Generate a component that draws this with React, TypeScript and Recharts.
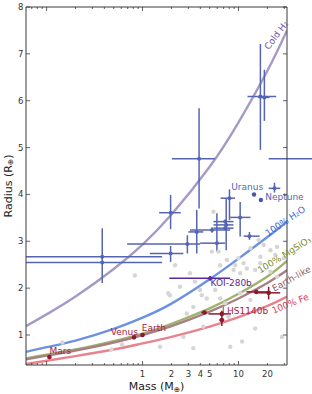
import React from "react"
import { ComposedChart, XAxis, YAxis, Line, Scatter, ErrorBar, ReferenceDot } from "recharts"

// composition curves, sampled at the same masses
const curveMass = [0.061, 0.1, 0.2, 0.5, 1, 2, 5, 10, 20, 32]
const coldH2Radius = [1.19, 1.44, 1.82, 2.41, 2.93, 3.57, 4.59, 5.54, 6.64, 7.5]
const waterRadius = [0.64, 0.74, 0.88, 1.13, 1.37, 1.67, 2.19, 2.63, 3.09, 3.42]
const rockRadius = [0.5, 0.58, 0.69, 0.87, 1.03, 1.24, 1.57, 1.88, 2.25, 2.58]
const earthLikeRadius = [0.48, 0.56, 0.67, 0.84, 1.0, 1.19, 1.5, 1.78, 2.11, 2.38]
const ironRadius = [0.38, 0.45, 0.55, 0.69, 0.82, 0.96, 1.18, 1.38, 1.62, 1.82]

// [mass, radius, massLow, massHigh, radiusLow, radiusHigh]
const blueExoplanets = [
  [0.38, 2.67, 0.061, 1.6, 2.11, 3.28],
  [0.38, 2.55, 0.061, 1.6, 2.55, 2.55],
  [1.96, 3.61, 1.49, 2.5, 3.26, 3.99],
  [1.96, 2.74, 1.19, 2.66, 2.56, 2.9],
  [2.93, 2.94, 0.69, 3.98, 2.74, 3.13],
  [3.88, 4.76, 2.02, 5.7, 3.7, 5.84],
  [3.67, 3.2, 3.0, 4.3, 2.74, 3.67],
  [8.05, 3.92, 6.5, 9.2, 3.45, 4.11],
  [7.44, 3.35, 5.48, 8.87, 2.81, 3.92],
  [7.26, 3.42, 5.48, 8.87, 3.38, 3.46],
  [7.26, 3.28, 5.48, 8.87, 3.24, 3.32],
  [5.95, 2.96, 3.98, 7.26, 2.78, 3.6],
  [5.3, 3.24, 3.12, 8.19, 3.18, 3.3],
  [10.4, 3.51, 8.19, 13.3, 3.1, 3.84],
  [13.0, 3.11, 11.3, 16.6, 3.03, 3.2],
  [16.9, 6.09, 12.4, 24.7, 4.95, 7.21],
  [18.6, 6.07, 16.0, 21.0, 5.57, 6.66],
  [40, 4.76, 20.6, 60, 4.76, 4.76],
  [23.7, 4.13, 20.6, 27.2, 4.04, 4.25],
]
const iceGiants = [
  [14.5, 4.0],
  [17.1, 3.88],
]
const rockyPlanets = [
  [0.107, 0.53, 0.107, 0.107, 0.53, 0.53],
  [0.815, 0.95, 0.815, 0.815, 0.95, 0.95],
  [1, 1, 1, 1, 1, 1],
  [4.41, 1.48, 4.1, 4.7, 1.48, 1.48],
  [6.7, 1.45, 4.86, 8.33, 1.4, 1.52],
  [6.7, 1.32, 6.3, 7.1, 1.19, 1.43],
  [15.3, 1.92, 12.1, 21.5, 1.88, 1.96],
  [20.6, 1.9, 15.6, 27.2, 1.76, 2.03],
]
const koi280b = [[5.06, 2.21, 1.9, 8.19, 2.16, 2.26]]

const backgroundPlanets = [
  [1.93, 1.85], [3.12, 2.32], [3.52, 2.14], [3.97, 1.96], [4.14, 1.85], [4.67, 1.78],
  [3.38, 1.6], [2.89, 1.46], [2.66, 0.96], [1.52, 0.75], [3.38, 0.72], [8.19, 0.75],
  [14.9, 1.14], [10.4, 1.89], [13.3, 1.75], [7.86, 1.39], [7.26, 1.68], [6.44, 1.78],
  [10.4, 2.32], [12.2, 2.42], [16.9, 2.53], [21.5, 2.35], [25.2, 2.24], [29.6, 2.64],
  [5.71, 1.96], [2.46, 2.03], [5.27, 2.78], [7.56, 2.6], [6.44, 2.49], [9.23, 2.49],
  [5.48, 3.63], [6.18, 2.78], [10.0, 2.64], [11.3, 2.53], [16.2, 3.03], [18.3, 2.92],
  [21.5, 2.81], [25.2, 2.88], [13.3, 2.85], [16.9, 2.67], [24.2, 2.71], [8.87, 2.39],
  [14.9, 2.39], [4.3, 1.18], [10.9, 0.86], [28.4, 0.96], [0.146, 0.84], [0.474, 0.69],
  [0.612, 0.8], [0.831, 2.27], [2.18, 2.49], [1.85, 1.89],
]

const massTicks = [
  0.07, 0.08, 0.09, 0.1, 0.2, 0.3, 0.4, 0.5, 0.6, 0.7, 0.8, 0.9,
  1, 2, 3, 4, 5, 6, 7, 8, 9, 10, 20, 30,
]
const majorMassTicks = [0.1, 1, 10]
const massLabels = [1, 2, 3, 4, 5, 10, 20]
const radiusTicks = [1, 2, 3, 4, 5, 6, 7, 8]

// text notes: [text, mass, radius, colour, tilt]
const curveNotes = [
  ["Cold H₂", 24.8, 7.4, "#6e57a3", -53],
  ["100% H₂O", 30.8, 3.43, "#3e62d6", -34],
  ["100% MgSiO₃", 30.1, 2.71, "#7a8e33", -32],
  ["Earth-like", 35.6, 2.2, "#8a5b5d", -29],
  ["100% Fe", 34.7, 1.67, "#d7404f", -22],
]
const planetNotes = [
  ["Mars", 0.139, 0.65, "#a8213b"],
  ["Venus", 0.645, 1.06, "#a8213b"],
  ["Earth", 1.31, 1.15, "#a8213b"],
  ["LHS1140b", 11.7, 1.51, "#a8213b"],
  ["KOI-280b", 8.39, 2.1, "#5a2a98"],
  ["Uranus", 12.3, 4.15, "#5565b2"],
  ["Neptune", 30.1, 3.95, "#5565b2"],
]

const AXIS = "#3a3a3a"
const FONT = "DejaVu Sans, sans-serif"

const curve = (radius: number[]) => curveMass.map((m, i) => ({ m, r: radius[i] }))
const withErrors = (rows: number[][]) =>
  rows.map(([m, r, mLo, mHi, rLo, rHi]) => ({ m, r, ex: [m - mLo, mHi - m], ey: [r - rLo, rHi - r] }))
const points = (rows: number[][]) => rows.map(([m, r]) => ({ m, r }))

const dot = (r: number, fill: string) => (p: any) => <circle cx={p.cx} cy={p.cy} r={r} fill={fill} />

function BottomTick({ x, y, payload }: any) {
  const v = payload.value
  const len = majorMassTicks.includes(v) ? 4 : 2
  return (
    <g>
      <line x1={x} x2={x} y1={y} y2={y - len} stroke={AXIS} strokeWidth={0.8} />
      {massLabels.includes(v) && (
        <text x={x} y={y + 11.5} textAnchor="middle" fontSize={8.5} fill="#333" fontFamily={FONT}>
          {v}
        </text>
      )}
    </g>
  )
}

function TopTick({ x, y, payload }: any) {
  const len = majorMassTicks.includes(payload.value) ? 4 : 2
  return <line x1={x} x2={x} y1={y} y2={y + len} stroke={AXIS} strokeWidth={0.8} />
}

function LeftTick({ x, y, payload }: any) {
  return (
    <g>
      <line x1={x} x2={x + 4} y1={y} y2={y} stroke={AXIS} strokeWidth={0.8} />
      <text x={x - 2.5} y={y + 3} textAnchor="end" fontSize={8.5} fill="#333" fontFamily={FONT}>
        {payload.value}
      </text>
    </g>
  )
}

function RightTick({ x, y }: any) {
  return <line x1={x} x2={x - 4} y1={y} y2={y} stroke={AXIS} strokeWidth={0.8} />
}

function MassTitle({ viewBox }: any) {
  return (
    <text x={viewBox.x + viewBox.width / 2} y={viewBox.y + 25} textAnchor="middle" fontSize={11} fill="#222" fontFamily={FONT}>
      Mass (M<tspan fontSize={7.5} dy={2}>⊕</tspan><tspan dy={-2}>)</tspan>
    </text>
  )
}

function RadiusTitle({ viewBox }: any) {
  const cx = 8
  const cy = viewBox.y + viewBox.height / 2
  return (
    <text x={cx} y={cy} transform={`rotate(-90 ${cx} ${cy})`} textAnchor="middle" dominantBaseline="central" fontSize={11} fill="#222" fontFamily={FONT}>
      Radius (R<tspan fontSize={7.5} dy={2}>⊕</tspan><tspan dy={-2}>)</tspan>
    </text>
  )
}

function Note({ viewBox, text, color, tilt = 0 }: any) {
  const cx = viewBox.x + viewBox.width / 2
  const cy = viewBox.y + viewBox.height / 2
  return (
    <text x={cx} y={cy} transform={`rotate(${tilt} ${cx} ${cy})`} textAnchor="middle" dominantBaseline="central" fontSize={9} fill={color} fontFamily={FONT}>
      {text}
    </text>
  )
}

export default function App() {
  const crossStyle = { width: 0, strokeWidth: 1.5 }
  return (
    <div style={{ position: "absolute", left: 0, top: 0, background: "#fff" }}>
      <ComposedChart width={312} height={394} margin={{ top: 6, right: 24, bottom: 0, left: 0 }}>
        <XAxis
          dataKey="m"
          type="number"
          scale="log"
          domain={[0.061, 32]}
          allowDataOverflow
          ticks={massTicks}
          interval={0}
          tickSize={0}
          tickMargin={0}
          tickLine={false}
          tick={<BottomTick />}
          height={29}
          stroke={AXIS}
          label={<MassTitle />}
        />
        <XAxis
          xAxisId="top"
          orientation="top"
          dataKey="m"
          type="number"
          scale="log"
          domain={[0.061, 32]}
          allowDataOverflow
          ticks={massTicks}
          interval={0}
          tickSize={0}
          tickMargin={0}
          tickLine={false}
          tick={<TopTick />}
          height={1}
          stroke={AXIS}
        />
        <YAxis
          dataKey="r"
          type="number"
          domain={[0.36, 8]}
          allowDataOverflow
          ticks={radiusTicks}
          interval={0}
          tickSize={0}
          tickMargin={0}
          tickLine={false}
          tick={<LeftTick />}
          width={26}
          stroke={AXIS}
          label={<RadiusTitle />}
        />
        <YAxis
          yAxisId="right"
          orientation="right"
          dataKey="r"
          type="number"
          domain={[0.36, 8]}
          allowDataOverflow
          ticks={radiusTicks}
          interval={0}
          tickSize={0}
          tickMargin={0}
          tickLine={false}
          tick={<RightTick />}
          width={1}
          stroke={AXIS}
        />

        <Scatter data={points(backgroundPlanets)} shape={dot(2.2, "#d6d6d6")} isAnimationActive={false} />

        <Line data={curve(coldH2Radius)} dataKey="r" type="natural" stroke="#a699c8" strokeWidth={2.4} dot={false} isAnimationActive={false} />
        <Line data={curve(waterRadius)} dataKey="r" type="natural" stroke="#6d91e2" strokeWidth={2.4} dot={false} isAnimationActive={false} />
        <Line data={curve(rockRadius)} dataKey="r" type="natural" stroke="#a0b26c" strokeWidth={2.4} dot={false} isAnimationActive={false} />
        <Line data={curve(earthLikeRadius)} dataKey="r" type="natural" stroke="#a88084" strokeWidth={2.4} dot={false} isAnimationActive={false} />
        <Line data={curve(ironRadius)} dataKey="r" type="natural" stroke="#e8828d" strokeWidth={2.4} dot={false} isAnimationActive={false} />

        <Scatter data={withErrors(blueExoplanets)} shape={dot(2, "#5565b2")} isAnimationActive={false}>
          <ErrorBar dataKey="ex" direction="x" stroke="#5565b2" {...crossStyle} />
          <ErrorBar dataKey="ey" direction="y" stroke="#5565b2" {...crossStyle} />
        </Scatter>
        <Scatter data={points(iceGiants)} shape={dot(2.2, "#4757a8")} isAnimationActive={false} />
        <Scatter data={withErrors(koi280b)} shape={dot(2, "#5a2a98")} isAnimationActive={false}>
          <ErrorBar dataKey="ex" direction="x" stroke="#5a2a98" {...crossStyle} />
          <ErrorBar dataKey="ey" direction="y" stroke="#5a2a98" {...crossStyle} />
        </Scatter>
        <Scatter data={withErrors(rockyPlanets)} shape={dot(2.3, "#8b1a2e")} isAnimationActive={false}>
          <ErrorBar dataKey="ex" direction="x" stroke="#8b1a2e" {...crossStyle} />
          <ErrorBar dataKey="ey" direction="y" stroke="#8b1a2e" {...crossStyle} />
        </Scatter>

        {curveNotes.map(([text, m, r, color, tilt]) => (
          <ReferenceDot key={text as string} x={m} y={r} r={0} fill="none" stroke="none" ifOverflow="visible"
            label={<Note text={text} color={color} tilt={tilt} />} />
        ))}
        {planetNotes.map(([text, m, r, color]) => (
          <ReferenceDot key={text as string} x={m} y={r} r={0} fill="none" stroke="none" ifOverflow="visible"
            label={<Note text={text} color={color} />} />
        ))}
      </ComposedChart>
    </div>
  )
}
